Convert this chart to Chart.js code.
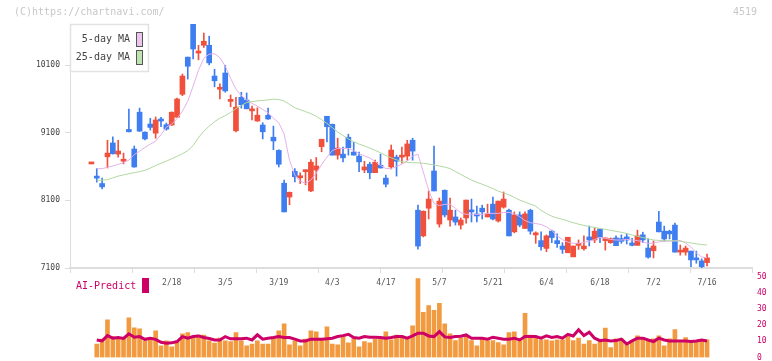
<!DOCTYPE html>
<html>
<head>
<meta charset="utf-8">
<script src="https://cdn.jsdelivr.net/npm/chart.js@4"></script>
<style>
  html, body { margin: 0; padding: 0; background: #fff; }
  #wrap { position: relative; width: 772px; height: 361px; }
  #wrap canvas { position: absolute; left: 0; top: 0; }
</style>
</head>
<body>
<div id="wrap">
  <canvas id="price" width="772" height="361"></canvas>
  <canvas id="predict" width="772" height="361"></canvas>
</div>
<script>
// ── Data (one entry per trading day, index 0 = first candle) ─────────────
const open  = [8640,8460,8350,8745,8950,8785,8680,9150,8860,9405,9110,9230,9095,9305,9220,9215,9330,9670,10220,10705,
               10280,10395,10395,9940,9745,9985,9565,9130,9625,9585,9425,9275,9215,9360,9035,8840,8355,8150,8530,8435,
               8525,8240,8550,8895,9345,9225,8770,8785,9035,8815,8755,8550,8635,8510,8620,8430,8595,8740,8740,8755,
               8990,7955,7575,7985,8535,7750,8250,7810,7855,7735,7840,7940,7900,7985,7855,8045,7795,8000,7955,7635,
               7885,7685,7955,7590,7505,7390,7645,7505,7425,7325,7265,7435,7385,7560,7515,7675,7505,7475,7545,7535,
               7560,7470,7435,7590,7395,7355,7780,7645,7645,7735,7335,7335,7350,7250,7205,7180];
const high  = [8650,8570,8430,8990,9040,8990,8800,9450,8905,9465,9115,9315,9335,9330,9245,9410,9615,9970,10220,10705,
               10395,10575,10530,10040,9825,10100,9660,9625,9700,9690,9495,9470,9250,9465,9200,8850,8400,8225,8570,8510,
               8550,8705,8735,9005,9345,9230,9020,8890,9080,8960,8815,8680,8665,8695,8785,8475,8920,8770,8890,8990,
               9020,8030,7945,8240,8905,8135,8255,8135,7955,7840,8105,8120,8015,8030,8045,8150,8090,8225,7970,7930,
               7930,7930,7970,7635,7635,7590,7660,7605,7475,7555,7425,7515,7575,7720,7690,7675,7545,7545,7575,7590,
               7605,7540,7660,7630,7530,7500,7940,7720,7660,7765,7440,7425,7350,7350,7235,7305];
const low   = [8640,8370,8270,8580,8785,8740,8640,9115,8590,9120,8995,9140,9020,9190,9140,9210,9330,9650,9895,10195,
               10180,10365,10105,9780,9600,9700,9485,9115,9465,9455,9290,9270,9010,9300,8850,8595,7930,8035,8375,8350,
               8330,8230,8400,8820,8965,8770,8710,8670,8770,8770,8525,8510,8420,8510,8578,8300,8565,8460,8650,8695,
               8695,7380,7560,7825,8240,7705,7855,7720,7735,7675,7765,7780,7780,7825,7855,7810,7780,7985,7575,7620,
               7710,7685,7600,7465,7365,7340,7475,7405,7315,7325,7265,7375,7365,7425,7475,7475,7365,7465,7430,7465,
               7455,7425,7435,7475,7245,7250,7635,7495,7530,7335,7290,7290,7120,7170,7100,7130];
const close = [8650,8430,8300,8800,8790,8830,8710,9115,8595,9125,9010,9180,9290,9275,9155,9405,9600,9940,10085,10340,
               10310,10455,10135,9870,9770,9720,9595,9480,9515,9455,9440,9360,9115,9305,8980,8635,7930,8220,8450,8465,
               8545,8665,8610,9005,9190,8770,8875,8730,8880,8770,8670,8595,8510,8665,8580,8340,8845,8680,8770,8935,
               8830,7425,7940,8120,8240,8090,7885,7955,7780,7810,8105,7930,7870,7930,7900,7825,8090,8120,7575,7885,
               7735,7900,7645,7620,7415,7575,7550,7460,7375,7555,7425,7455,7425,7515,7645,7555,7545,7535,7430,7495,
               7515,7435,7575,7515,7260,7425,7635,7530,7605,7335,7365,7395,7220,7220,7120,7250];

// moving averages as drawn on the chart (no value on the first day)
const ma5  = [null,8570,8570,8590,8610,8633,8659,8696,8778,8829,8884,8933,8977,9073,9184,9228,9310,9420,9568,9790,
              10026,10204,10263,10270,10211,10086,9908,9746,9650,9587,9536,9494,9446,9394,9317,9250,9081,8696,8475,8386,
              8352,8401,8504,8630,8741,8837,8869,8869,8869,8837,8792,8758,8729,8677,8618,8571,8571,8603,8637,8681,
              8755,8785,8519,8253,8053,8024,8041,8046,7982,7920,7894,7894,7894,7894,7906,7908,7908,7920,7923,7901,
              7860,7802,7771,7758,7743,7710,7654,7577,7518,7484,7465,7465,7480,7495,7521,7552,7540,7523,7514,7514,
              7523,7514,7506,7484,7465,7467,7487,7496,7499,7502,7508,7470,7410,7322,7263,7252];
const ma25 = [null,8396,8401,8407,8433,8460,8477,8495,8510,8526,8545,8578,8616,8650,8681,8717,8752,8791,8837,8911,
              9029,9125,9199,9264,9317,9354,9401,9457,9503,9549,9561,9573,9579,9587,9598,9593,9570,9522,9471,9443,
              9413,9384,9344,9295,9239,9177,9113,9060,9010,8968,8933,8906,8874,8841,8804,8766,8730,8702,8673,8662,
              8658,8655,8649,8637,8625,8609,8593,8571,8526,8485,8442,8401,8368,8339,8308,8275,8238,8209,8183,8145,
              8105,8075,8046,8016,7953,7908,7866,7839,7821,7795,7770,7749,7730,7713,7700,7685,7672,7657,7642,7628,
              7611,7589,7570,7551,7532,7514,7509,7505,7502,7501,7496,7484,7470,7458,7447,7440];

// lower panel: volume bars and AI-Predict line (0-50 scale)
const volume    = [null,8.4,11.4,23.4,13,12,12,24.7,18.4,17.8,10.5,12.4,16.6,7.2,10.3,6.6,9.9,14.7,15.5,13,
                   14,14,10.3,8.9,12,10.3,9.9,15.5,10.3,7.2,8.4,10.3,8.4,8.4,12,16.6,20.9,7.8,10.3,7.2,
                   11.4,16.6,15.9,11.8,19.1,8.4,7.8,13.6,9.1,11.8,6.6,9.9,9.1,11.4,11.4,15.9,11,14,13.4,11.8,
                   19.7,49,28,32.2,29.3,33.6,20.9,14.7,10.5,12,13.4,10.5,7.2,12,10.5,10.5,9.3,7.8,15.5,15.9,
                   10.3,27.4,14,13,11,11,10.3,11,11,13.4,10.5,12,8.4,10.5,8.4,9.9,18.3,6.2,11.6,11.6,
                   8.4,10.3,13.4,12.4,11,11.6,13.4,7.2,11.6,17.3,9.3,12.4,9.9,9.9,10.5,11];
const aiPredict = [null,10.9,10.3,13.6,12,12.4,11.8,14.7,12.6,13,11.3,12,11.3,9.5,8.9,9.1,9.9,13,12,13,
                   13.4,12.4,11.8,10.9,10.9,13,11.6,11.6,11.6,12,10.9,14.1,11.4,12,12.4,13,12.4,12.4,11.4,10.3,
                   10.3,11.4,11.4,11.4,11.6,12,13,13.6,14.4,12.4,12,13,12.6,12.6,12.4,12,12.4,13,13,12,
                   13.4,15.1,15.1,13.4,13,16.1,12.8,12.4,13,13.2,14,12,12,12,11.4,12.6,12,11.4,11.4,12,
                   10.9,13,13,13,12,13.4,12.4,13,12,14.4,13.4,17.2,13.6,15.7,12,10.5,10.9,10.3,10.5,11.4,
                   8.4,10.3,12,12,10.9,9.9,12,10.9,10.3,10.3,10.3,10.3,9.9,10.3,10.9,10.3];

// axis labels
const dateLabels = ["2/18","3/5","3/19","4/3","4/17","5/7","5/21","6/4","6/18","7/2","7/16"];
const dateIndex  = [15, 25, 35, 45, 55, 65, 75, 85, 95, 105, 115];
const priceTicks = [7100, 8100, 9100, 10100];
const predictTicks = [0, 10, 20, 30, 40, 50];

// ── Style ────────────────────────────────────────────────────
const FONT       = "'DejaVu Sans Mono', monospace";
const UP         = "#f0503c";
const DOWN       = "#3f7ef0";
const MA5_LINE   = "#e4b0ea";
const MA5_FILL   = "#ecc4ee";
const MA25_LINE  = "#b0d8a0";
const MA25_FILL  = "#c0e2b0";
const VOL_COLOR  = "#f29a40";
const AI_COLOR   = "#cc0066";
const AXIS_COLOR = "#dddddd";
const X_MIN = -4.0, X_MAX = 123.4;

const pts = (arr) => arr.map((v, i) => (v == null ? null : { x: i, y: v })).filter(Boolean);
const candleColor = open.map((o, i) => (close[i] >= o ? UP : DOWN));
const noPad = (s) => { s.paddingTop = 0; s.paddingBottom = 0; s.paddingLeft = 0; s.paddingRight = 0; };

// ── Overlay texts / legend box (price chart) ─────────────────
const priceOverlay = {
  id: "priceOverlay",
  afterDraw(chart) {
    const ctx = chart.ctx;
    ctx.save();
    ctx.font = "10px " + FONT;
    ctx.textBaseline = "middle";
    ctx.fillStyle = "#c8c8c8";
    ctx.textAlign = "left";
    ctx.fillText("(C)https://chartnavi.com/", 14, 12);
    ctx.textAlign = "right";
    ctx.fillText("4519", 757, 12);

    ctx.fillStyle = "#fff";
    ctx.fillRect(70, 24, 79, 48);
    ctx.strokeStyle = "#e2e2e2";
    ctx.lineWidth = 1.5;
    ctx.strokeRect(70.5, 24.5, 78, 47);

    const lines = chart.data.datasets.filter((d) => d.type === "line");
    lines.forEach((d, k) => {
      const cy = 39.5 + k * 18;
      ctx.fillStyle = "#444";
      ctx.textAlign = "right";
      ctx.fillText(d.label, 130, cy);
      ctx.fillStyle = d.legendFill;
      ctx.fillRect(136, cy - 7.5, 7, 15);
      ctx.strokeStyle = "#555";
      ctx.lineWidth = 1;
      ctx.strokeRect(136.5, cy - 7, 6, 14);
    });
    ctx.restore();
  },
};

// ── Price chart ──────────────────────────────────────────────
new Chart(document.getElementById("price"), {
  type: "bar",
  data: {
    datasets: [
      { type: "bar", label: "range", data: high.map((h, i) => ({ x: i, y: [low[i], h] })),
        backgroundColor: candleColor, barThickness: 1, grouped: false, order: 4 },
      { type: "bar", label: "body", data: open.map((o, i) => ({ x: i, y: [o, close[i]] })),
        backgroundColor: candleColor, barThickness: 5, minBarLength: 2, grouped: false, order: 3 },
      { type: "line", label: "5-day MA", data: pts(ma5), borderColor: MA5_LINE, legendFill: MA5_FILL,
        borderWidth: 1, pointRadius: 0, tension: 0, order: 2 },
      { type: "line", label: "25-day MA", data: pts(ma25), borderColor: MA25_LINE, legendFill: MA25_FILL,
        borderWidth: 1, pointRadius: 0, tension: 0, order: 1 },
    ],
  },
  options: {
    responsive: false,
    animation: false,
    devicePixelRatio: 1,
    layout: { padding: { top: 24, right: 20, left: 0, bottom: 0 } },
    plugins: { legend: { display: false }, tooltip: { enabled: false } },
    scales: {
      x: {
        type: "linear", min: X_MIN, max: X_MAX, position: "bottom", weight: 0, offset: false,
        afterBuildTicks: (s) => {
          s.ticks = Array.from({ length: 12 }, (_, k) => ({ value: X_MIN + (k * (X_MAX - X_MIN)) / 11 }));
        },
        afterFit: (s) => { s.height = 5; noPad(s); },
        grid: { drawOnChartArea: false, tickLength: 5, color: AXIS_COLOR, offset: false },
        border: { color: AXIS_COLOR, width: 2 },
        ticks: { display: false },
      },
      xDate: {
        type: "linear", min: X_MIN, max: X_MAX, position: "bottom", weight: 1, offset: false,
        afterBuildTicks: (s) => { s.ticks = dateIndex.map((v) => ({ value: v })); },
        afterFit: (s) => { s.height = 88; noPad(s); },
        grid: { display: false, drawTicks: false, offset: false },
        border: { display: false },
        ticks: {
          padding: 5, color: "#555", font: { family: FONT, size: 8 },
          maxRotation: 0, autoSkip: false,
          callback: (v) => { const k = dateIndex.indexOf(v); return k < 0 ? "" : dateLabels[k]; },
        },
      },
      y: {
        min: 7100, max: 10710,
        afterBuildTicks: (s) => { s.ticks = priceTicks.map((v) => ({ value: v })); },
        afterFit: (s) => { s.width = 70; noPad(s); },
        grid: { drawOnChartArea: false, tickLength: 5, color: AXIS_COLOR },
        border: { color: AXIS_COLOR, width: 1 },
        ticks: { padding: 5, color: "#444", font: { family: FONT, size: 8 }, callback: (v) => String(v) },
      },
    },
  },
  plugins: [priceOverlay],
});

// ── AI-Predict legend ────────────────────────────────────────
const predictOverlay = {
  id: "predictOverlay",
  afterDraw(chart) {
    const ctx = chart.ctx;
    ctx.save();
    ctx.font = "10px " + FONT;
    ctx.textBaseline = "middle";
    ctx.textAlign = "left";
    ctx.fillStyle = AI_COLOR;
    ctx.fillText(chart.data.datasets[0].label, 76, 286);
    ctx.fillRect(142, 278, 7, 15);
    ctx.restore();
  },
};

// ── Lower panel ──────────────────────────────────────────────
new Chart(document.getElementById("predict"), {
  type: "bar",
  data: {
    datasets: [
      { type: "line", label: "AI-Predict", data: pts(aiPredict), borderColor: AI_COLOR,
        borderWidth: 3, pointRadius: 0, tension: 0, order: 1 },
      { type: "bar", label: "Volume", data: pts(volume), backgroundColor: VOL_COLOR,
        barThickness: 4, grouped: false, order: 2 },
    ],
  },
  options: {
    responsive: false,
    animation: false,
    devicePixelRatio: 1,
    layout: { padding: { top: 277, bottom: 3.5, left: 70, right: 0 } },
    plugins: { legend: { display: false }, tooltip: { enabled: false } },
    scales: {
      x: { type: "linear", min: X_MIN, max: X_MAX, display: false, offset: false, grid: { offset: false } },
      y: {
        position: "right", min: 0, max: 50,
        afterBuildTicks: (s) => { s.ticks = predictTicks.map((v) => ({ value: v })); },
        afterFit: (s) => { s.width = 20; noPad(s); },
        grid: { display: false, drawTicks: false },
        border: { display: false },
        ticks: { padding: 5, color: AI_COLOR, font: { family: FONT, size: 8 } },
      },
    },
  },
  plugins: [predictOverlay],
});
</script>
</body>
</html>
